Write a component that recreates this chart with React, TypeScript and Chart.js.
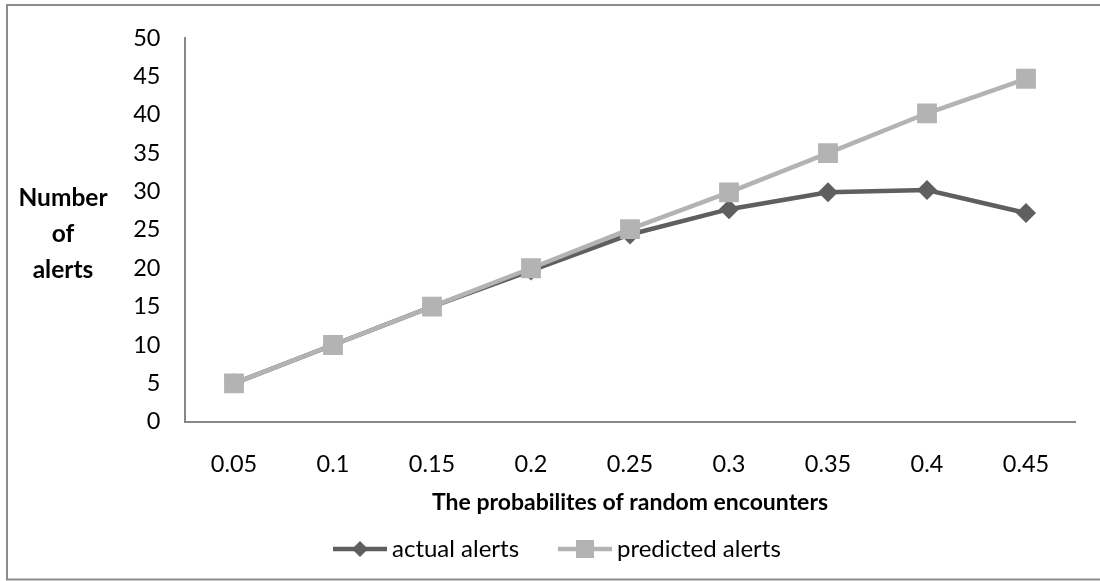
import React, { useEffect, useRef } from "react";
import { Chart, registerables } from "chart.js";

Chart.register(...registerables);

const categories = ["0.05", "0.1", "0.15", "0.2", "0.25", "0.3", "0.35", "0.4", "0.45"];
const actualAlerts = [5, 10, 15, 19.7, 24.4, 27.7, 29.9, 30.2, 27.2];
const predictedAlerts = [5, 10, 15, 20, 25.1, 29.9, 35.0, 40.2, 44.7];
const yTitleLines = ["Number", "of", "alerts"];
const xTitle = "The probabilites of random encounters";
const seriesNames = ["actual alerts", "predicted alerts"];

const FONT = "Lato, 'Open Sans', sans-serif";
const DARK = "#5f5f5f";
const LIGHT = "#b3b3b3";

const overlay = {
  id: "overlay",
  afterDraw(chart: any) {
    const ctx = chart.ctx;
    const area = chart.chartArea;
    ctx.save();
    // outer border
    ctx.strokeStyle = "#8c8c8c";
    ctx.lineWidth = 2;
    ctx.strokeRect(7, 5, 1100, 574.5);
    // y title
    ctx.fillStyle = "#000";
    ctx.font = `bold 24.5px ${FONT}`;
    ctx.textAlign = "center";
    ctx.textBaseline = "middle";
    yTitleLines.forEach((t, i) => ctx.fillText(t, 63, 198 + i * 36));
    // x title
    ctx.font = `bold 23px ${FONT}`;
    ctx.fillText(xTitle, (area.left + area.right) / 2, 503);
    // legend
    ctx.font = `24px ${FONT}`;
    ctx.textAlign = "left";
    const ly = 549;
    const items = [
      { x: 333, color: DARK, style: "diamond", name: seriesNames[0] },
      { x: 558, color: LIGHT, style: "square", name: seriesNames[1] },
    ];
    items.forEach((it) => {
      ctx.strokeStyle = it.color;
      ctx.lineWidth = 4.5;
      ctx.beginPath();
      ctx.moveTo(it.x, ly);
      ctx.lineTo(it.x + 54, ly);
      ctx.stroke();
      ctx.fillStyle = it.color;
      const cx = it.x + 27;
      if (it.style === "diamond") {
        ctx.beginPath();
        ctx.moveTo(cx, ly - 8);
        ctx.lineTo(cx + 8, ly);
        ctx.lineTo(cx, ly + 8);
        ctx.lineTo(cx - 8, ly);
        ctx.closePath();
        ctx.fill();
      } else {
        ctx.fillRect(cx - 9, ly - 9, 18, 18);
      }
      ctx.fillStyle = "#000";
      ctx.fillText(it.name, it.x + 59, ly);
    });
    ctx.restore();
  },
};

export default function App() {
  const ref = useRef<HTMLCanvasElement>(null);
  useEffect(() => {
    if (!ref.current) return;
    const chart = new Chart(ref.current, {
      type: "line",
      data: {
        labels: categories,
        datasets: [
          {
            label: seriesNames[0],
            data: actualAlerts,
            borderColor: DARK,
            backgroundColor: DARK,
            borderWidth: 4.5,
            pointStyle: "rectRot",
            pointRadius: 10,
            pointHoverRadius: 10,
            pointBorderWidth: 0,
            order: 1,
          },
          {
            label: seriesNames[1],
            data: predictedAlerts,
            borderColor: LIGHT,
            backgroundColor: LIGHT,
            borderWidth: 4.5,
            pointStyle: "rect",
            pointRadius: 14,
            pointHoverRadius: 14,
            pointBorderWidth: 0,
            order: 0,
          },
        ],
      },
      options: {
        responsive: false,
        animation: false,
        events: [],
        layout: { padding: { left: 0, right: 24.5, top: 33.7, bottom: 0 } },
        plugins: { legend: { display: false }, tooltip: { enabled: false }, title: { display: false } },
        scales: {
          x: {
            type: "category",
            offset: true,
            grid: { display: false, drawTicks: false },
            border: { display: true, color: "#878787", width: 2 },
            ticks: { color: "#000", font: { family: FONT, size: 23.5 }, padding: 29, maxRotation: 0 },
            afterFit: (s: any) => {
              s.height = 581 - 421.7;
            },
          },
          y: {
            min: 0,
            max: 50,
            grid: { display: false, drawTicks: false },
            border: { display: true, color: "#878787", width: 2 },
            ticks: { stepSize: 5, color: "#000", font: { family: FONT, size: 23.5 }, padding: 24 },
            afterFit: (s: any) => {
              s.width = 184.5;
            },
          },
        },
      },
      plugins: [overlay],
    });
    return () => chart.destroy();
  }, []);
  return (
    <div style={{ position: "absolute", left: 0, top: 0, width: 1100, height: 581, background: "#fff" }}>
      <canvas ref={ref} width={1100} height={581} />
    </div>
  );
}
